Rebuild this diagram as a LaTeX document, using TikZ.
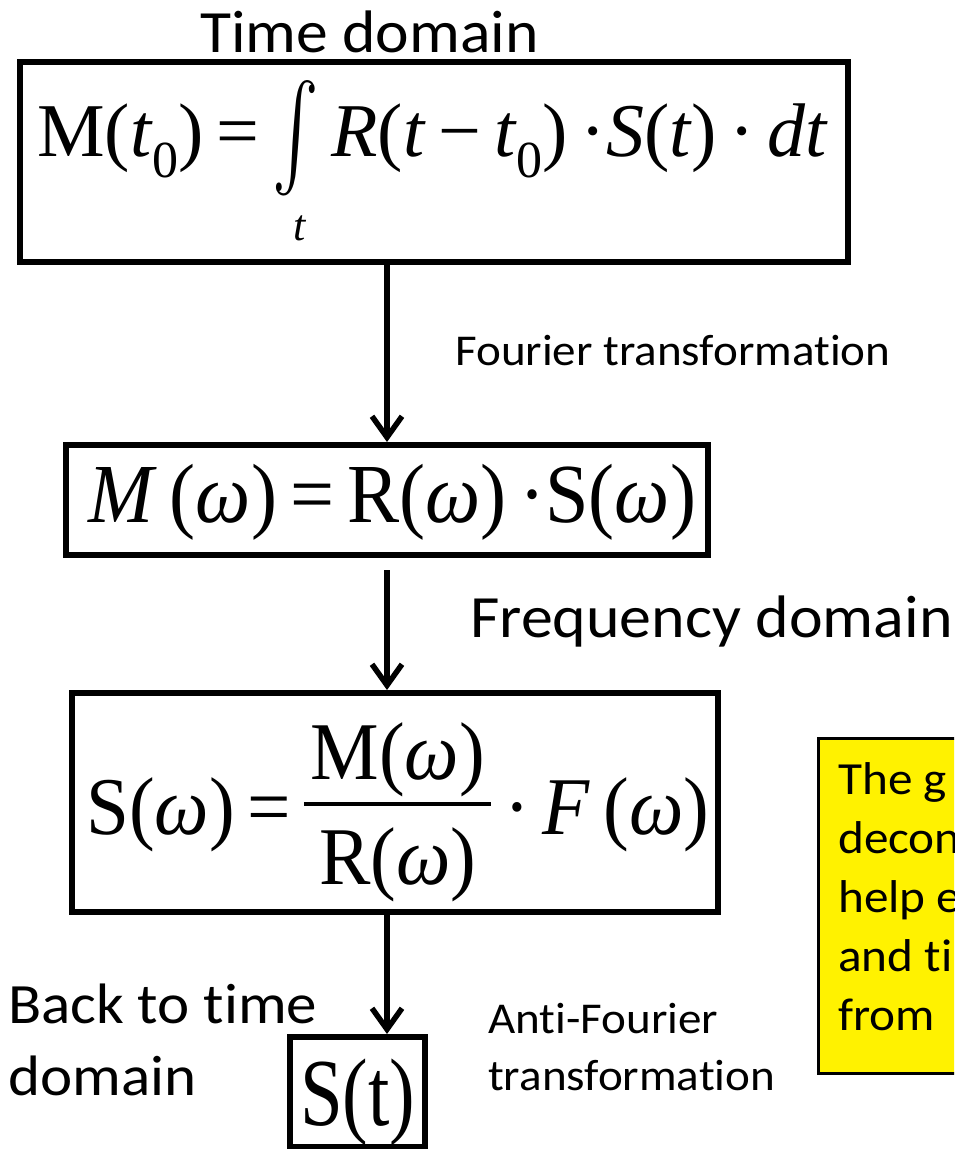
\documentclass[tikz,border=0pt]{standalone}
\usepackage{fontspec}
\setmainfont{Carlito}[Ligatures=NoCommon,RawFeature={-liga;-clig;-calt}]
\newfontfamily\tnr{Liberation Serif}
\usepackage{graphicx}
\usetikzlibrary{arrows.meta}
\newcommand\fs[1]{\fontsize{#1}{#1}\selectfont}
\newcommand\hs[2]{\scalebox{#1}[1]{#2}}
\newcommand\nti{t\kern0pt i}
\newsavebox\numbox \newsavebox\denbox \newlength\fracw
\newcommand\ffrac[2]{\sbox\numbox{#1}\sbox\denbox{#2}%
  \setlength\fracw{\wd\numbox}\ifdim\wd\denbox>\fracw\setlength\fracw{\wd\denbox}\fi
  \addtolength\fracw{14pt}%
  \rlap{\raisebox{55pt}{\makebox[\fracw]{\usebox\numbox}}}%
  \rlap{\raisebox{-50pt}{\makebox[\fracw]{\usebox\denbox}}}%
  \raisebox{28pt}{\rule{\fracw}{4pt}}}
\newcommand\intsym{\raisebox{-8pt}{\scalebox{7}[10.4]{\fs{10}$\int$}}}
\begin{document}
\begin{tikzpicture}[x=1pt,y=-1pt,
  eqbox/.style={draw, line width=6pt, inner sep=0pt},
  lab/.style={inner sep=0pt, anchor=base west},
  eq/.style={inner sep=0pt, anchor=base west},
  arr/.style={line width=5.5pt, -{Straight Barb[length=21pt,width=30pt]}}]
\useasboundingbox (0,0) rectangle (954,1149);
% boxes
\node[eqbox, minimum width=828pt, minimum height=200pt] (tbox) at (434,162) {};
\node[eqbox, minimum width=642pt, minimum height=110pt] (fbox) at (387,500) {};
\node[eqbox, minimum width=646pt, minimum height=219pt] (dbox) at (395,802.5) {};
\node[eqbox, minimum width=135pt, minimum height=110pt] (sbox) at (357.5,1092) {};
% formulas
\node[eq] (f1) at (37,156) {\hs{1.0}{\tnr\fs{76}M(\textit{t}\raisebox{-21pt}{\fs{52}0})\,=\,\intsym\llap{\raisebox{-84pt}{\fs{44}\textit{t}}\hspace{12pt}}\,\textit{R}(\textit{t}\,−\,\textit{t}\raisebox{-21pt}{\fs{52}0})\,·\textit{S}(\textit{t})\,·\,\textit{dt}}};
\node[eq] (f2) at (88,522) {\hs{0.93}{\tnr\fs{84}\textit{M}\,(\textit{ω})\,=\,R(\textit{ω})\,·S(\textit{ω})}};
\node[eq] (f3) at (86,834) {\hs{0.94}{\tnr\fs{82}S(\textit{ω})\,=\,\ffrac{M(\textit{ω})}{R(\textit{ω})}\,·\,\textit{F}\,(\textit{ω})}};
\node[eq] (f4) at (300,1125) {\hs{0.8}{\tnr\fs{96}S(t)}};
% labels
\node[lab] (l1) at (200,52) {\hs{1.06}{\fs{60}Time domain}};
\node[lab] (l2) at (455,365) {\hs{1.07}{\fs{44}Fourier transforma\nti on}};
\node[lab] (l3) at (470,637) {\hs{1.065}{\fs{60}Frequency domain}};
\node[lab] (l4) at (8,1023) {\hs{1.07}{\fs{57}Back to \nti me}};
\node[lab] (l5) at (8,1095) {\hs{1.07}{\fs{57}domain}};
\node[lab] (l6) at (488,1033) {\hs{1.07}{\fs{44}Anti-Fourier}};
\node[lab] (l7) at (488,1090) {\hs{1.07}{\fs{44}transforma\nti on}};
% arrows
\draw[arr] (tbox.south -| fbox.north) -- (fbox.north);
\draw[arr] ([yshift=-12pt]fbox.south) -- (fbox.south |- dbox.north);
\draw[arr] (dbox.south -| fbox.south) -- (fbox.south |- sbox.north);
% yellow note
\begin{scope}
\clip (0,0) rectangle (954,1149);
\node[draw, line width=3pt, fill=yellow, anchor=north west, minimum width=300pt, minimum height=335pt] (ybox) at (817,737) {};
\node[anchor=north west, inner sep=0pt, align=left, font=\fs{46}] (ytext) at (838,762) {\hs{1.07}{The g}\\[13pt]\hs{1.07}{decon}\\[13pt]\hs{1.07}{help e}\\[13pt]\hs{1.07}{and \nti}\\[13pt]\hs{1.07}{from}};
\end{scope}
\end{tikzpicture}
\end{document}
